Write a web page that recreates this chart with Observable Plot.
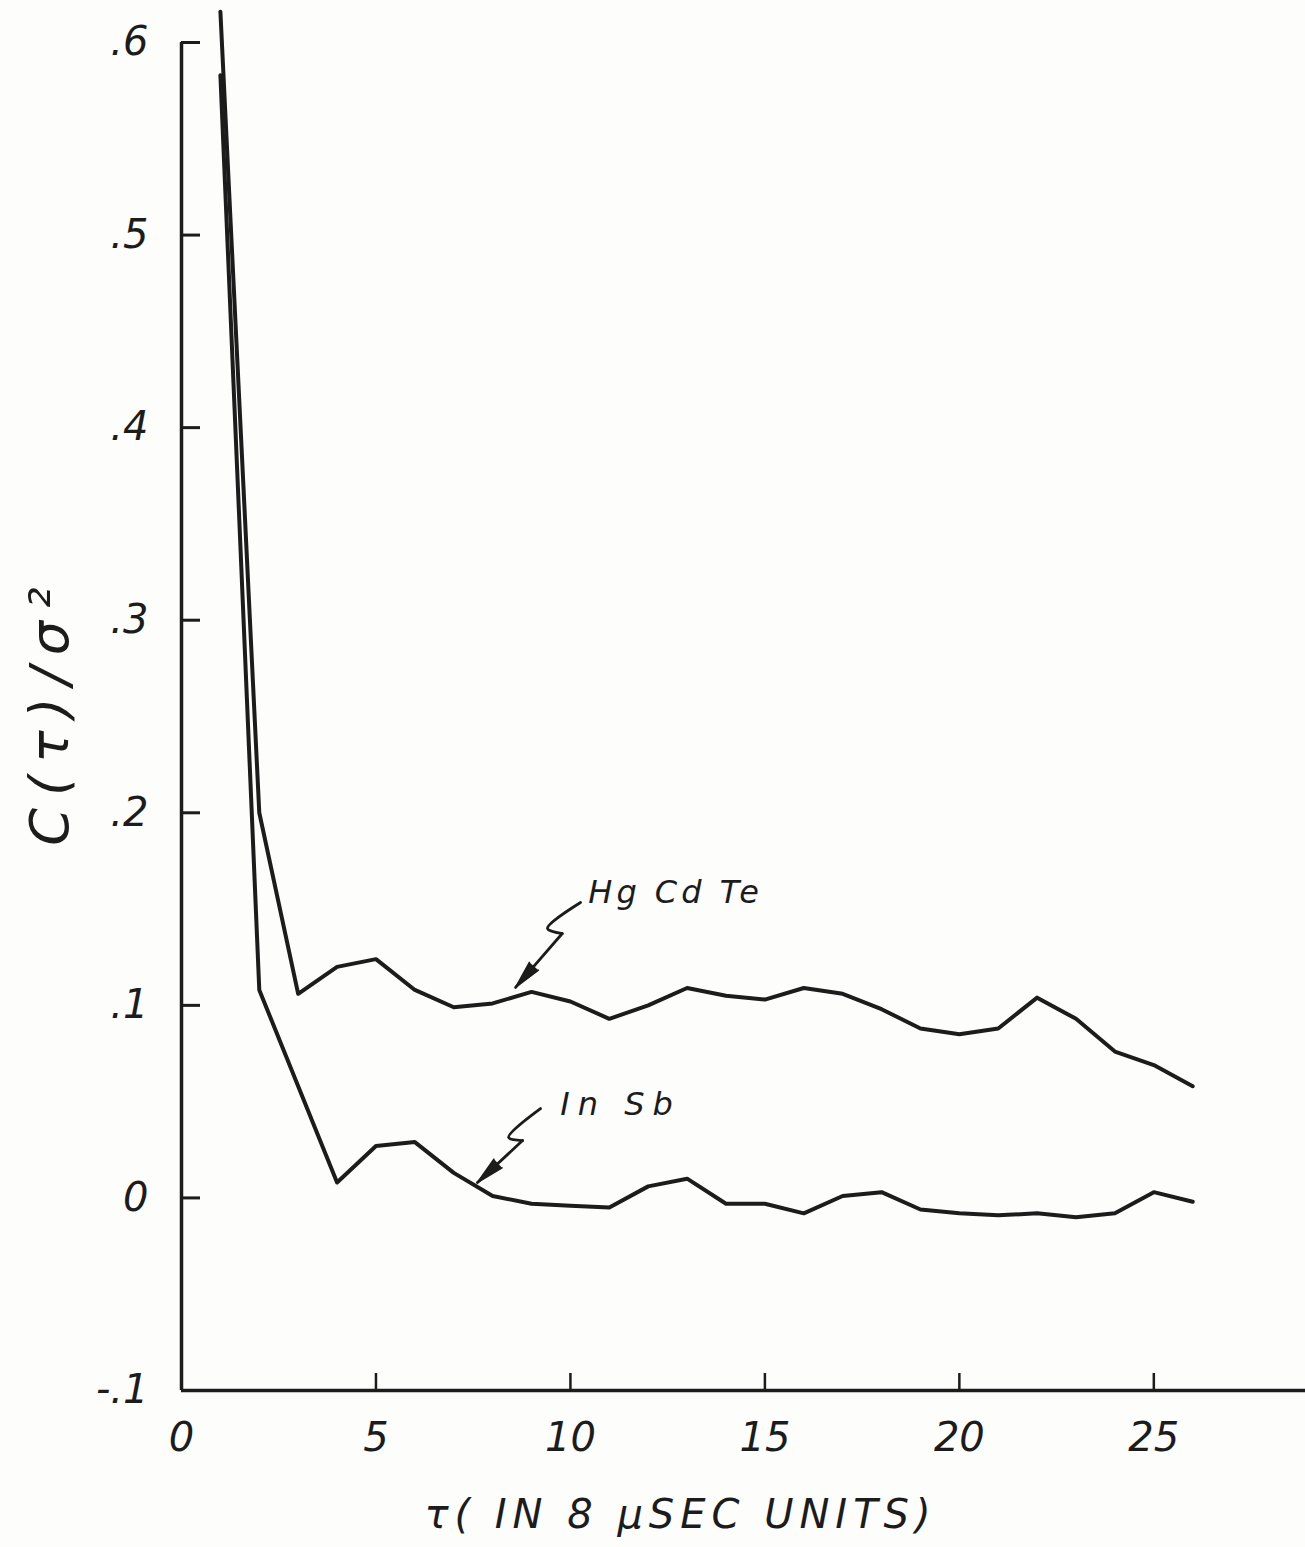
<!DOCTYPE html>
<html>
<head>
<meta charset="utf-8">
<script src="https://cdn.jsdelivr.net/npm/d3@7"></script>
<script src="https://cdn.jsdelivr.net/npm/@observablehq/plot@0.6"></script>
<style>
  html, body { margin: 0; padding: 0; background: #fdfdfc; }
</style>
</head>
<body>
<div id="chart"></div>
<script>
// ---- data ----
const tau = [1,2,3,4,5,6,7,8,9,10,11,12,13,14,15,16,17,18,19,20,21,22,23,24,25,26];
const hgcdte = [0.616,0.200,0.106,0.120,0.124,0.108,0.099,0.101,0.107,0.102,0.093,0.100,0.109,
                0.105,0.103,0.109,0.106,0.098,0.088,0.085,0.088,0.104,0.093,0.076,0.069,0.058];
const insb   = [0.583,0.108,0.058,0.008,0.027,0.029,0.013,0.001,-0.003,-0.004,-0.005,0.006,0.010,
                -0.003,-0.003,-0.008,0.001,0.003,-0.006,-0.008,-0.009,-0.008,-0.010,-0.008,0.003,-0.002];

const xTicks = [5,10,15,20,25];
const xTickLabelValues = [0,5,10,15,20,25];
const xTickLabels = ["0","5","10","15","20","25"];
const yTicks = [0.6,0.5,0.4,0.3,0.2,0.1,0];
const yTickLabelValues = [0.6,0.5,0.4,0.3,0.2,0.1,0,-0.1];
const yTickLabels = [".6",".5",".4",".3",".2",".1","0","-.1"];

const xTitle = "τ( IN 8 μSEC UNITS)";
const yTitle = "C(τ)/σ²";

// annotation leaders (data coordinates): squiggle points, then arrow tip
const hgLabel = {name: "Hg Cd Te", x: 10.46, y: 0.153};
const hgLeaderX = [10.26, 9.41, 9.79, 8.59];
const hgLeaderY = [0.1534, 0.1399, 0.1373, 0.1093];
const inLabel = {name: "In Sb", x: 9.74, y: 0.043};
const inLeaderX = [9.23, 8.41, 8.77, 7.61];
const inLeaderY = [0.0464, 0.0314, 0.0298, 0.0080];

// ---- layout constants ----
const W = 1305, H = 1547, mT = 42, mB = 157, mL = 181, mR = 0;
const xDom = [0, 28.9], yDom = [-0.1, 0.6];
const kx = (W - mL - mR) / (xDom[1] - xDom[0]);   // px per x unit
const ky = (H - mT - mB) / (yDom[1] - yDom[0]);   // px per y unit

// ---- build tables ----
const series = [
  ...tau.map((t, i) => ({tau: t, v: hgcdte[i], s: "HgCdTe"})),
  ...tau.map((t, i) => ({tau: t, v: insb[i], s: "InSb"}))
];
const toPts = (xs, ys) => xs.map((x, i) => ({x, y: ys[i]}));
const hgPts = toPts(hgLeaderX, hgLeaderY);
const inPts = toPts(inLeaderX, inLeaderY);
const headOf = (a, b) => ({x: b.x, y: b.y,
  rot: Math.atan2((b.x - a.x) * kx, (b.y - a.y) * ky) * 180 / Math.PI});
const heads = [headOf(hgPts[2], hgPts[3]), headOf(inPts[2], inPts[3])];

const ink = "#1c1c1c";
const font = "DejaVu Sans";

const chart = Plot.plot({
  width: W,
  height: H,
  marginTop: mT,
  marginBottom: mB,
  marginLeft: mL,
  marginRight: mR,
  style: {background: "#fdfdfc", fontFamily: font, color: ink},
  x: {domain: xDom, axis: null},
  y: {domain: yDom, axis: null},
  marks: [
    // axes lines
    Plot.ruleX([0], {stroke: ink, strokeWidth: 3.5}),
    Plot.ruleY([-0.1], {stroke: ink, strokeWidth: 3.5}),
    // inward ticks
    Plot.ruleY(yTicks, {x1: 0, x2: 19 / kx, stroke: ink, strokeWidth: 3}),
    Plot.ruleX(xTicks, {y1: -0.1, y2: -0.1 + 17 / ky, stroke: ink, strokeWidth: 2.5}),
    // tick labels
    Plot.text(yTickLabelValues, {x: 0, y: d => d, text: (d, i) => yTickLabels[i], dx: -33, textAnchor: "end", lineAnchor: "middle", fontSize: 40, fontStyle: "italic", fill: ink}),
    Plot.text(xTickLabelValues, {x: d => d, y: -0.1, text: (d, i) => xTickLabels[i], dy: 48, lineAnchor: "middle", fontSize: 40, fontStyle: "italic", fill: ink}),
    // axis titles
    Plot.text([yTitle], {frameAnchor: "left", dx: -131, dy: -6, rotate: -90, textAnchor: "middle", lineAnchor: "middle", fontSize: 54, fontStyle: "italic", fill: ink}),
    Plot.text([xTitle], {frameAnchor: "bottom", dx: -63, dy: 125, textAnchor: "middle", lineAnchor: "middle", fontSize: 40, fontStyle: "italic", fill: ink}),
    // data lines
    Plot.line(series, {x: "tau", y: "v", z: "s", stroke: ink, strokeWidth: 4, strokeLinejoin: "round"}),
    // annotation leaders
    Plot.line(hgPts.slice(0, 3), {x: "x", y: "y", stroke: ink, strokeWidth: 2.8, curve: "catmull-rom"}),
    Plot.line(hgPts.slice(2, 4), {x: "x", y: "y", stroke: ink, strokeWidth: 2.8}),
    Plot.line(inPts.slice(0, 3), {x: "x", y: "y", stroke: ink, strokeWidth: 2.8, curve: "catmull-rom"}),
    Plot.line(inPts.slice(2, 4), {x: "x", y: "y", stroke: ink, strokeWidth: 2.8}),
    Plot.vector(heads, {x: "x", y: "y", rotate: "rot", length: 28, r: 6, shape: "spike", anchor: "end", fill: ink, stroke: ink, strokeWidth: 1.5}),
    // annotation labels
    Plot.text([hgLabel], {x: "x", y: "y", text: "name", textAnchor: "start", lineAnchor: "bottom", fontSize: 32, fontStyle: "italic", fill: ink}),
    Plot.text([inLabel], {x: "x", y: "y", text: "name", textAnchor: "start", lineAnchor: "bottom", fontSize: 32, fontStyle: "italic", fill: ink})
  ]
});

// letter spacing for the hand-lettered look
const spacing = new Map([[yTitle, "12px"], [xTitle, "6px"], [hgLabel.name, "4px"], [inLabel.name, "8px"]]);
d3.select(chart).selectAll("text").each(function() {
  const t = this.textContent;
  if (spacing.has(t)) this.setAttribute("letter-spacing", spacing.get(t));
});
document.getElementById("chart").appendChild(chart);
</script>
</body>
</html>
